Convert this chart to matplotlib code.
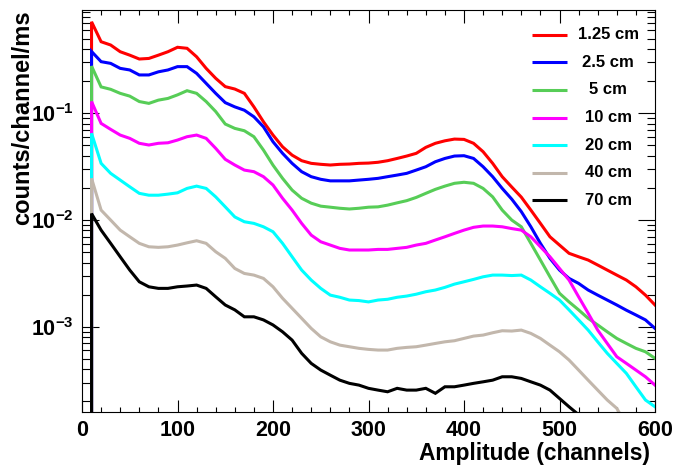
import numpy as np
import matplotlib
matplotlib.use('Agg')
import matplotlib.pyplot as plt
from matplotlib.ticker import (FixedLocator, FixedFormatter, MultipleLocator,
                               LogLocator, NullFormatter)

# ---------------- data ----------------
channels = np.arange(10, 601, 10)

labels = ['1.25 cm', '2.5 cm', '5 cm', '10 cm', '20 cm', '40 cm', '70 cm']
colors = ['#ff0000', '#0000ff', '#57cd57', '#ff00ff', '#00ffff', '#c2b7ac', '#000000']

red = [0.721, 0.469, 0.437, 0.378, 0.351, 0.323, 0.327, 0.351, 0.378, 0.416,
       0.407, 0.339, 0.264, 0.213, 0.178, 0.169, 0.154, 0.115, 0.0834, 0.0626,
       0.0486, 0.0406, 0.0360, 0.0340, 0.0333, 0.0328, 0.0333, 0.0335, 0.0340, 0.0342,
       0.0348, 0.0360, 0.0378, 0.0398, 0.0422, 0.0480, 0.0524, 0.0553, 0.0574, 0.0570,
       0.0524, 0.0437, 0.0340, 0.0255, 0.0204, 0.0164, 0.0124, 0.00931, 0.00697, 0.00583,
       0.00488, 0.00453, 0.00422, 0.00379, 0.00340, 0.00305, 0.00274, 0.00237, 0.00198, 0.00160]

blue = [0.380, 0.305, 0.294, 0.264, 0.255, 0.229, 0.229, 0.245, 0.255, 0.274,
        0.274, 0.237, 0.191, 0.154, 0.126, 0.115, 0.107, 0.0929, 0.0748, 0.0542,
        0.0422, 0.0340, 0.0284, 0.0255, 0.0241, 0.0233, 0.0233, 0.0233, 0.0237, 0.0241,
        0.0246, 0.0255, 0.0264, 0.0274, 0.0294, 0.0316, 0.0352, 0.0378, 0.0398, 0.0401,
        0.0378, 0.0316, 0.0255, 0.0198, 0.0157, 0.0120, 0.00865, 0.00605, 0.00438, 0.00340,
        0.00284, 0.00255, 0.00221, 0.00198, 0.00178, 0.00160, 0.00143, 0.00129, 0.00116, 0.000966]

green = [0.277, 0.177, 0.168, 0.154, 0.145, 0.129, 0.124, 0.133, 0.138, 0.149,
         0.163, 0.154, 0.129, 0.104, 0.0794, 0.0723, 0.0687, 0.0604, 0.0453, 0.0327,
         0.0246, 0.0191, 0.0160, 0.0144, 0.0135, 0.0132, 0.0129, 0.0127, 0.0129, 0.0132,
         0.0133, 0.0138, 0.0145, 0.0152, 0.0163, 0.0178, 0.0194, 0.0208, 0.0221, 0.0226,
         0.0221, 0.0198, 0.0165, 0.0124, 0.0100, 0.00865, 0.00605, 0.00422, 0.00294, 0.00206,
         0.00171, 0.00144, 0.00120, 0.00104, 0.000897, 0.000778, 0.000698, 0.000628, 0.000583, 0.000506]

magenta = [0.129, 0.0805, 0.0708, 0.0626, 0.0583, 0.0524, 0.0505, 0.0524, 0.0530, 0.0562,
           0.0604, 0.0626, 0.0583, 0.0470, 0.0371, 0.0328, 0.0294, 0.0284, 0.0255, 0.0213,
           0.0160, 0.0124, 0.00931, 0.00723, 0.00626, 0.00583, 0.00543, 0.00524, 0.00524, 0.00524,
           0.00531, 0.00531, 0.00543, 0.00555, 0.00583, 0.00605, 0.00650, 0.00697, 0.00750, 0.00805,
           0.00855, 0.00879, 0.00879, 0.00865, 0.00832, 0.00805, 0.00697, 0.00562, 0.00453, 0.00352,
           0.00274, 0.00191, 0.00134, 0.000931, 0.000698, 0.000524, 0.000454, 0.000393, 0.000340, 0.000284]

cyan = [0.0650, 0.0340, 0.0274, 0.0237, 0.0205, 0.0178, 0.0171, 0.0171, 0.0175, 0.0180,
        0.0198, 0.0208, 0.0198, 0.0165, 0.0133, 0.0107, 0.00964, 0.00931, 0.00865, 0.00777,
        0.00605, 0.00453, 0.00340, 0.00274, 0.00229, 0.00198, 0.00189, 0.00178, 0.00176, 0.00171,
        0.00178, 0.00181, 0.00189, 0.00194, 0.00202, 0.00213, 0.00221, 0.00234, 0.00251, 0.00264,
        0.00278, 0.00294, 0.00305, 0.00305, 0.00302, 0.00305, 0.00274, 0.00237, 0.00206, 0.00178,
        0.00144, 0.00116, 0.000931, 0.000723, 0.000564, 0.000454, 0.000366, 0.000274, 0.000206, 0.000178]

tan = [0.0246, 0.0124, 0.0100, 0.00805, 0.00697, 0.00605, 0.00562, 0.00555, 0.00562, 0.00583,
       0.00612, 0.00640, 0.00605, 0.00505, 0.00438, 0.00352, 0.00316, 0.00305, 0.00284, 0.00237,
       0.00185, 0.00149, 0.00120, 0.000966, 0.000805, 0.000723, 0.000673, 0.000650, 0.000628, 0.000614,
       0.000605, 0.000605, 0.000628, 0.000641, 0.000650, 0.000673, 0.000698, 0.000723, 0.000740, 0.000778,
       0.000818, 0.000836, 0.000879, 0.000918, 0.000912, 0.000931, 0.000867, 0.000778, 0.000673, 0.000583,
       0.000488, 0.000393, 0.000316, 0.000255, 0.000206, 0.000172, 0.00012, 0.0001, 0.0001, 0.0001]

black = [0.0115, 0.00805, 0.00605, 0.00453, 0.00340, 0.00264, 0.00237, 0.00229, 0.00229, 0.00237,
         0.00241, 0.00246, 0.00229, 0.00191, 0.00160, 0.00144, 0.00124, 0.00124, 0.00116, 0.00104,
         0.000897, 0.000750, 0.000564, 0.000454, 0.000393, 0.000352, 0.000316, 0.000295, 0.000284, 0.000265,
         0.000255, 0.000246, 0.000265, 0.000255, 0.000255, 0.000265, 0.000238, 0.000274, 0.000274, 0.000284,
         0.000295, 0.000305, 0.000316, 0.000340, 0.000340, 0.000328, 0.000305, 0.000284, 0.000255, 0.000213,
         0.000178, 0.00015, 0.0001, 0.0001, 0.0001, 0.0001, 0.0001, 0.0001, 0.0001, 0.0001]

xtick_vals = [0, 100, 200, 300, 400, 500, 600]
xtick_labels = ['0', '100', '200', '300', '400', '500', '600']
ytick_vals = [1e-3, 1e-2, 1e-1]
ytick_labels = [r'$\mathbf{10^{-3}}$', r'$\mathbf{10^{-2}}$', r'$\mathbf{10^{-1}}$']

x_label = 'Amplitude (channels)'
y_label = 'counts/channel/ms'

# ---------------- style ----------------
plt.rcParams['font.family'] = ['Liberation Sans', 'DejaVu Sans']
plt.rcParams['font.weight'] = 'bold'
plt.rcParams['mathtext.fontset'] = 'custom'
plt.rcParams['mathtext.rm'] = 'Liberation Sans:bold'
plt.rcParams['mathtext.bf'] = 'Liberation Sans:bold'
plt.rcParams['mathtext.it'] = 'Liberation Sans:bold'

W, H = 677, 467
fig = plt.figure(figsize=(W / 100, H / 100), dpi=100)
ax = fig.add_axes([82 / W, 1 - 412 / H, 573 / W, 402 / H])

series = [red, blue, green, magenta, cyan, tan, black]
for vals, c, lab in zip(series, colors, labels):
    x = np.concatenate([[channels[0]], channels])
    y = np.concatenate([[1e-6], vals])
    ax.plot(x, y, color=c, lw=2.2, label=lab, solid_joinstyle='miter')

ax.set_yscale('log')
ax.set_xlim(0, 600)
ax.set_ylim(1.59e-4, 0.93)

ax.xaxis.set_major_locator(FixedLocator(xtick_vals))
ax.xaxis.set_major_formatter(FixedFormatter(xtick_labels))
ax.xaxis.set_minor_locator(MultipleLocator(20))
ax.yaxis.set_major_locator(FixedLocator(ytick_vals))
ax.yaxis.set_major_formatter(FixedFormatter(ytick_labels))
ax.yaxis.set_minor_locator(LogLocator(base=10, subs=np.arange(2, 10), numticks=20))
ax.yaxis.set_minor_formatter(NullFormatter())

ax.tick_params(which='both', direction='in', top=True, right=True, width=0.8, colors='black')
ax.tick_params(axis='x', which='major', length=9, pad=6, labelsize=15.5)
ax.tick_params(axis='x', which='minor', length=3.8)
ax.tick_params(axis='y', which='major', length=12, pad=6, labelsize=15.5)
ax.tick_params(axis='y', which='minor', length=6)
for s in ax.spines.values():
    s.set_linewidth(0.8)

ax.set_xlabel(x_label, fontsize=16.4, fontweight='bold', loc='right')
ax.xaxis.set_label_coords(0.991, -0.075)
ax.set_ylabel(y_label, fontsize=17.0, fontweight='bold', loc='top')
ax.yaxis.set_label_coords(-0.084, 1.0)

# legend (no frame, centred labels as in the ROOT original)
leg_x0, leg_x1, leg_tx = 0.785, 0.846, 0.918
leg_y0, leg_dy = 0.938, 0.0685
for i, (c, lab) in enumerate(zip(colors, labels)):
    yy = leg_y0 - i * leg_dy
    ax.plot([leg_x0, leg_x1], [yy, yy], transform=ax.transAxes, color=c, lw=2.2,
            solid_capstyle='butt')
    ax.text(leg_tx, yy, lab, transform=ax.transAxes, ha='center', va='center',
            fontsize=12, fontweight='bold')

fig.savefig('out.png', dpi=100)
